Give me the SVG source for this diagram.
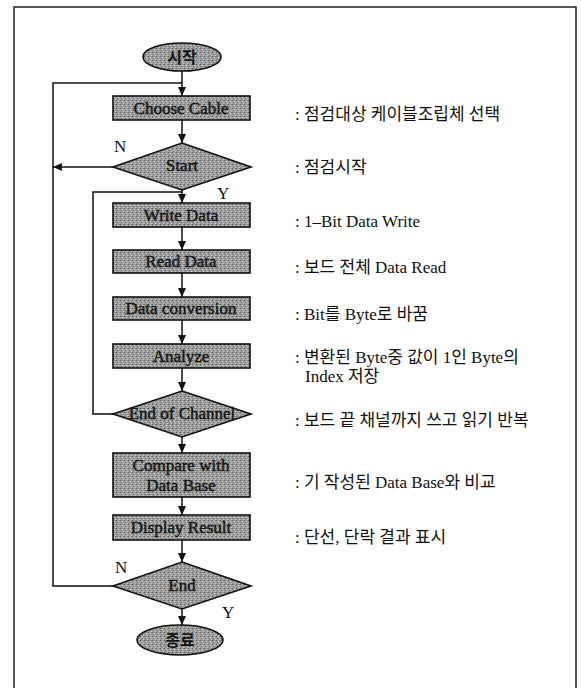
<svg xmlns="http://www.w3.org/2000/svg" width="581" height="688" viewBox="0 0 581 688">
<style>
  .frame { fill: none; stroke: #222; stroke-width: 1.5; }
  .shape { fill: url(#stipple); stroke: #111; stroke-width: 1.6; }
  .lbl { font-family: "Liberation Serif", "Noto Sans CJK KR", serif; font-size: 17px; fill: #151515; stroke: #151515; stroke-width: 0.45; text-anchor: middle; }
  .klbl { font-family: "Noto Sans CJK KR", sans-serif; font-size: 16px; font-weight: bold; fill: #151515; text-anchor: middle; }
  .desc { font-family: "Liberation Serif", "Noto Sans CJK KR", serif; font-size: 17px; fill: #111; }
  .yn { font-family: "Liberation Serif", serif; font-size: 17px; fill: #111; }
  .line { fill: none; stroke: #111; stroke-width: 1.5; }
  .arrow { fill: none; stroke: #111; stroke-width: 1.5; marker-end: url(#ah); }
</style>
<defs>
  <pattern id="stipple" width="4" height="4" patternUnits="userSpaceOnUse">
    <rect width="4" height="4" fill="#9c9c9c"/>
    <rect x="0" y="0" width="1" height="1" fill="#5e5e5e"/>
    <rect x="2" y="1" width="1" height="1" fill="#d4d4d4"/>
    <rect x="1" y="2" width="1" height="1" fill="#767676"/>
    <rect x="3" y="3" width="1" height="1" fill="#c8c8c8"/>
    <rect x="3" y="0" width="1" height="1" fill="#858585"/>
  </pattern>
  <marker id="ah" viewBox="0 0 10 9" refX="10" refY="4.5" markerWidth="9" markerHeight="8" markerUnits="userSpaceOnUse" orient="auto">
    <path d="M0,0 L10,4.5 L0,9 z" fill="#111"/>
  </marker>
</defs>

<rect class="frame" x="14" y="7" width="562" height="700"/>

<g id="connectors">
  <path class="line" d="M113,586 H53 V83 H182"/>
  <path class="arrow" d="M182,71 V96"/>
  <path class="arrow" d="M182,120 V143"/>
  <path class="arrow" d="M113,167 H53"/>
  <path class="line" d="M113,414 H93 V192 H182"/>
  <path class="arrow" d="M182,190 V203"/>
  <path class="arrow" d="M182,227 V250"/>
  <path class="arrow" d="M182,273 V297"/>
  <path class="arrow" d="M182,320 V344"/>
  <path class="arrow" d="M182,368 V391"/>
  <path class="arrow" d="M182,437 V453"/>
  <path class="arrow" d="M182,497 V515"/>
  <path class="arrow" d="M182,540 V562"/>
  <path class="arrow" d="M182,609 V625"/>
  <text class="yn" x="114" y="152">N</text>
  <text class="yn" x="217" y="199">Y</text>
  <text class="yn" x="115" y="573">N</text>
  <text class="yn" x="222" y="618">Y</text>
</g>

<g id="n-start">
  <ellipse class="shape" cx="182" cy="57" rx="39" ry="14"/>
  <text class="klbl" x="182" y="63">시작</text>
</g>
<g id="n-choose">
  <rect class="shape" x="113" y="96" width="137" height="24"/>
  <text class="lbl" x="181" y="114">Choose Cable</text>
</g>
<g id="n-startq">
  <polygon class="shape" points="182,143 251,167 182,190 113,167"/>
  <text class="lbl" x="182" y="171">Start</text>
</g>
<g id="n-write">
  <rect class="shape" x="113" y="203" width="137" height="24"/>
  <text class="lbl" x="181" y="221">Write Data</text>
</g>
<g id="n-read">
  <rect class="shape" x="113" y="250" width="137" height="23"/>
  <text class="lbl" x="181" y="267">Read Data</text>
</g>
<g id="n-conv">
  <rect class="shape" x="113" y="297" width="137" height="23"/>
  <text class="lbl" x="181" y="314">Data conversion</text>
</g>
<g id="n-analyze">
  <rect class="shape" x="113" y="344" width="137" height="24"/>
  <text class="lbl" x="181" y="362">Analyze</text>
</g>
<g id="n-endch">
  <polygon class="shape" points="182,391 251,414 182,437 113,414"/>
  <text class="lbl" x="182" y="419">End of Channel</text>
</g>
<g id="n-compare">
  <rect class="shape" x="113" y="453" width="137" height="44"/>
  <text class="lbl" x="181" y="471">Compare with</text>
  <text class="lbl" x="181" y="491">Data Base</text>
</g>
<g id="n-display">
  <rect class="shape" x="113" y="515" width="137" height="25"/>
  <text class="lbl" x="181" y="533">Display Result</text>
</g>
<g id="n-endq">
  <polygon class="shape" points="182,562 251,586 182,609 113,586"/>
  <text class="lbl" x="182" y="591">End</text>
</g>
<g id="n-stop">
  <ellipse class="shape" cx="180" cy="640" rx="43" ry="15"/>
  <text class="klbl" x="180" y="646">종료</text>
</g>

<g id="descriptions">
  <text class="desc" x="295" y="120">: 점검대상 케이블조립체 선택</text>
  <text class="desc" x="295" y="173">: 점검시작</text>
  <text class="desc" x="295" y="227">: 1–Bit Data Write</text>
  <text class="desc" x="295" y="273">: 보드 전체 Data Read</text>
  <text class="desc" x="295" y="320">: Bit를 Byte로 바꿈</text>
  <text class="desc" x="295" y="363">: 변환된 Byte중 값이 1인 Byte의</text>
  <text class="desc" x="305" y="382">Index 저장</text>
  <text class="desc" x="295" y="426">: 보드 끝 채널까지 쓰고 읽기 반복</text>
  <text class="desc" x="295" y="488">: 기 작성된 Data Base와 비교</text>
  <text class="desc" x="295" y="543">: 단선, 단락 결과 표시</text>
</g>
</svg>
